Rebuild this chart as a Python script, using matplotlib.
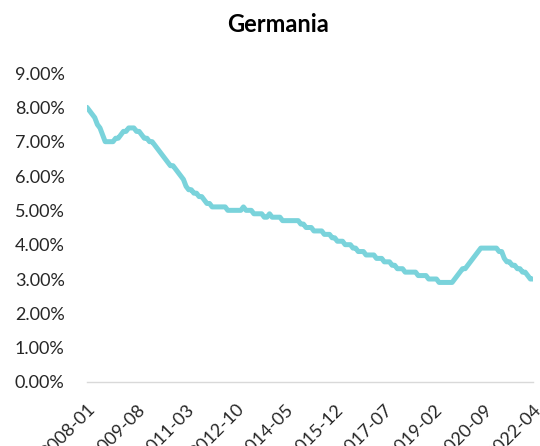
import numpy as np
import pandas as pd
import matplotlib
matplotlib.use("Agg")
import matplotlib.pyplot as plt
from matplotlib.ticker import PercentFormatter

plt.rcParams['font.family'] = ['Lato', 'DejaVu Sans']

# monthly unemployment rate, Germany (%)
rate_2008 = [8.0, 7.9, 7.8, 7.7, 7.5, 7.4, 7.2, 7.0, 7.0, 7.0, 7.0, 7.1]
rate_2009 = [7.1, 7.2, 7.3, 7.3, 7.4, 7.4, 7.4, 7.3, 7.3, 7.2, 7.1, 7.1]
rate_2010 = [7.0, 7.0, 6.9, 6.8, 6.7, 6.6, 6.5, 6.4, 6.3, 6.3, 6.2, 6.1]
rate_2011 = [6.0, 5.9, 5.7, 5.6, 5.6, 5.5, 5.5, 5.4, 5.4, 5.3, 5.2, 5.2]
rate_2012 = [5.1, 5.1, 5.1, 5.1, 5.1, 5.1, 5.0, 5.0, 5.0, 5.0, 5.0, 5.0]
rate_2013 = [5.1, 5.0, 5.0, 5.0, 4.9, 4.9, 4.9, 4.9, 4.8, 4.8, 4.9, 4.8]
rate_2014 = [4.8, 4.8, 4.8, 4.7, 4.7, 4.7, 4.7, 4.7, 4.7, 4.7, 4.6, 4.6]
rate_2015 = [4.5, 4.5, 4.5, 4.4, 4.4, 4.4, 4.4, 4.3, 4.3, 4.3, 4.2, 4.2]
rate_2016 = [4.1, 4.1, 4.1, 4.0, 4.0, 4.0, 3.9, 3.9, 3.8, 3.8, 3.8, 3.7]
rate_2017 = [3.7, 3.7, 3.7, 3.6, 3.6, 3.6, 3.5, 3.5, 3.5, 3.4, 3.4, 3.3]
rate_2018 = [3.3, 3.3, 3.2, 3.2, 3.2, 3.2, 3.2, 3.1, 3.1, 3.1, 3.1, 3.0]
rate_2019 = [3.0, 3.0, 3.0, 2.9, 2.9, 2.9, 2.9, 2.9, 2.9, 3.0, 3.1, 3.2]
rate_2020 = [3.3, 3.3, 3.4, 3.5, 3.6, 3.7, 3.8, 3.9, 3.9, 3.9, 3.9, 3.9]
rate_2021 = [3.9, 3.9, 3.8, 3.8, 3.6, 3.5, 3.5, 3.4, 3.4, 3.3, 3.3, 3.2]
rate_2022 = [3.2, 3.1, 3.0, 3.0]

rate = (rate_2008 + rate_2009 + rate_2010 + rate_2011 + rate_2012 + rate_2013
        + rate_2014 + rate_2015 + rate_2016 + rate_2017 + rate_2018 + rate_2019
        + rate_2020 + rate_2021 + rate_2022)
rate = np.array(rate) / 100

months = pd.period_range('2008-01', periods=len(rate), freq='M').strftime('%Y-%m')
x = np.arange(len(rate))

fig = plt.figure(figsize=(5.4, 4.46), dpi=100)
ax = fig.add_axes([0.161, 0.1435, 0.826, 0.6928])

ax.plot(x, rate, color='#7AD3DB', lw=3.6, solid_capstyle='round', solid_joinstyle='round')

ax.set_xlim(0, len(rate) - 1)
ax.set_ylim(0, 0.09)
ax.set_yticks(np.arange(0, 0.091, 0.01))
ax.yaxis.set_major_formatter(PercentFormatter(1.0, decimals=2))

# every 19th month gets a label, like the original
ticks = x[::19]
ax.set_xticks(ticks)
ax.set_xticklabels(months[::19], rotation=45, ha='right', rotation_mode='anchor')

ax.tick_params(axis='both', length=0, labelsize=13, colors='#262626')
ax.tick_params(axis='x', pad=14)
ax.tick_params(axis='y', pad=16)

for side in ['top', 'right', 'left']:
    ax.spines[side].set_visible(False)
ax.spines['bottom'].set_color('#D9D9D9')
ax.spines['bottom'].set_linewidth(1.0)

fig.text(0.515, 0.946, 'Germania', ha='center', va='center', fontsize=17, fontweight='bold')

fig.savefig('out.png', dpi=100)
